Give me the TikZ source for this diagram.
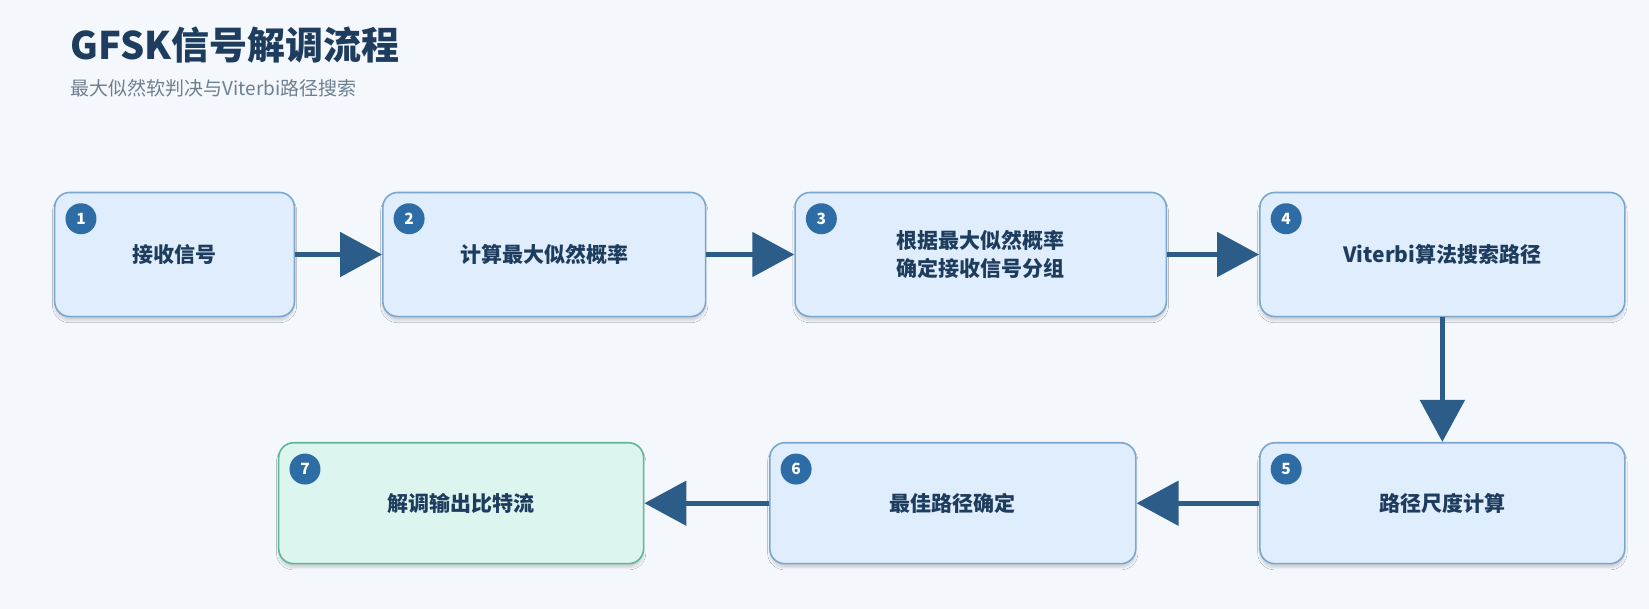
\documentclass[tikz,border=0pt]{standalone}
\usepackage{fontspec}
\setmainfont{Noto Sans CJK SC}
\usetikzlibrary{arrows.meta,shadows.blur}
\definecolor{bgc}{HTML}{F4F7FC}
\definecolor{bord}{HTML}{7BA7CF}
\definecolor{fillb}{HTML}{DFEDFC}
\definecolor{bordg}{HTML}{5DB89A}
\definecolor{fillg}{HTML}{DCF5EE}
\definecolor{txt}{HTML}{1E3D5E}
\definecolor{arr}{HTML}{2C5D88}
\definecolor{badge}{HTML}{2E6CA6}
\definecolor{sub}{HTML}{6E7F90}
\begin{document}
\begin{tikzpicture}[x=1.0517pt,y=-1.0517pt,
  box/.style={draw=bord,line width=1.6pt,fill=fillb,rounded corners=15pt,blur shadow={shadow blur steps=6,shadow xshift=0pt,shadow yshift=-4pt,shadow opacity=15},
    font=\bfseries\fontsize{21}{28}\selectfont,text=txt,align=center},
  gbox/.style={box,draw=bordg,fill=fillg},
  num/.style={circle,fill=badge,text=white,inner sep=0pt,minimum size=31pt,font=\bfseries\fontsize{15.5}{15.5}\selectfont},
  con/.style={draw=arr,line width=5.3pt,-{Triangle[length=42pt,width=44pt]}}]
\fill[bgc] (0,0) rectangle (1568,579);
\node[anchor=west,font=\bfseries\fontsize{38}{42}\selectfont,text=txt] (title) at (64,43) {GFSK信号解调流程};
\node[anchor=west,font=\fontsize{19}{21}\selectfont,text=sub] (subt) at (64,84) {最大似然软判决与Viterbi路径搜索};
\foreach \n/\xa/\xb/\ya/\yb/\st/\t in {
 1/52/280/183/301/box/接收信号,
 2/364/671/183/301/box/计算最大似然概率,
 3/756/1109/183/301/box/{根据最大似然概率\\确定接收信号分组},
 4/1198/1545/183/301/box/Viterbi算法搜索路径,
 5/1198/1545/421/536/box/路径尺度计算,
 6/732/1080/421/536/box/最佳路径确定,
 7/265/612/421/536/gbox/解调输出比特流}{
 \node[\st,minimum width=1.0517*(\xb-\xa),minimum height=1.0517*(\yb-\ya)] (b\n) at ({(\xa+\xb)/2},{(\ya+\yb)/2}) {\t};
 \node[num] (n\n) at (\xa+25,\ya+25) {\n};
}
\draw[con] (b1.east) -- (b2.west);
\draw[con] (b2.east) -- (b3.west);
\draw[con] (b3.east) -- (b4.west);
\draw[con] (b4.south) -- (b5.north);
\draw[con] (b5.west) -- (b6.east);
\draw[con] (b6.west) -- (b7.east);
\pgfresetboundingbox
\useasboundingbox (0,0) rectangle (1568,579);
\end{tikzpicture}
\end{document}
